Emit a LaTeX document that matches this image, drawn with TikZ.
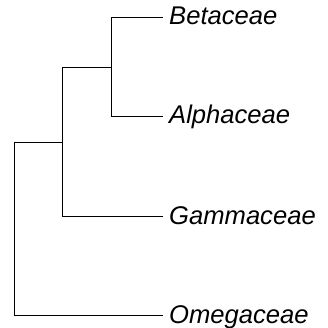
\documentclass[tikz,border=0pt]{standalone}
\usepackage{fontspec}
\setmainfont{Liberation Sans}
\begin{document}
\begin{tikzpicture}[
    x=1pt, y=-1pt,
    % ramas del cladograma
    branch/.style={line width=1.5pt, draw=black},
    % nombres de las familias
    taxon/.style={anchor=base west, inner sep=0pt, xshift=6pt, yshift=-7.5pt,
                  font=\fontsize{25.6}{30}\selectfont\itshape}
]
\useasboundingbox (0,0) rectangle (327,328);

% --- Puntas de las hojas ---
\coordinate (tb) at (163,17.5);
\coordinate (ta) at (163,116.5);
\coordinate (tg) at (163,216.5);
\coordinate (to) at (163,315.5);

% --- Nodos internos ---
\coordinate (ba) at (111.5,67.5);
\coordinate (bag) at (62.5,142.5);
\coordinate (root) at (14.5,229.5);

% --- Nombres ---
\node[taxon] (beta) at (tb) {Betaceae};
\node[taxon] (alpha) at (ta) {Alphaceae};
\node[taxon] (gamma) at (tg) {Gammaceae};
\node[taxon] (omega) at (to) {Omegaceae};

% --- Ramas ---
\draw[branch] (ba) |- (tb);
\draw[branch] (ba) |- (ta);
\draw[branch] (bag) |- (ba);
\draw[branch] (bag) |- (tg);
\draw[branch] (root) |- (bag);
\draw[branch] (root) |- (to);

\end{tikzpicture}
\end{document}
